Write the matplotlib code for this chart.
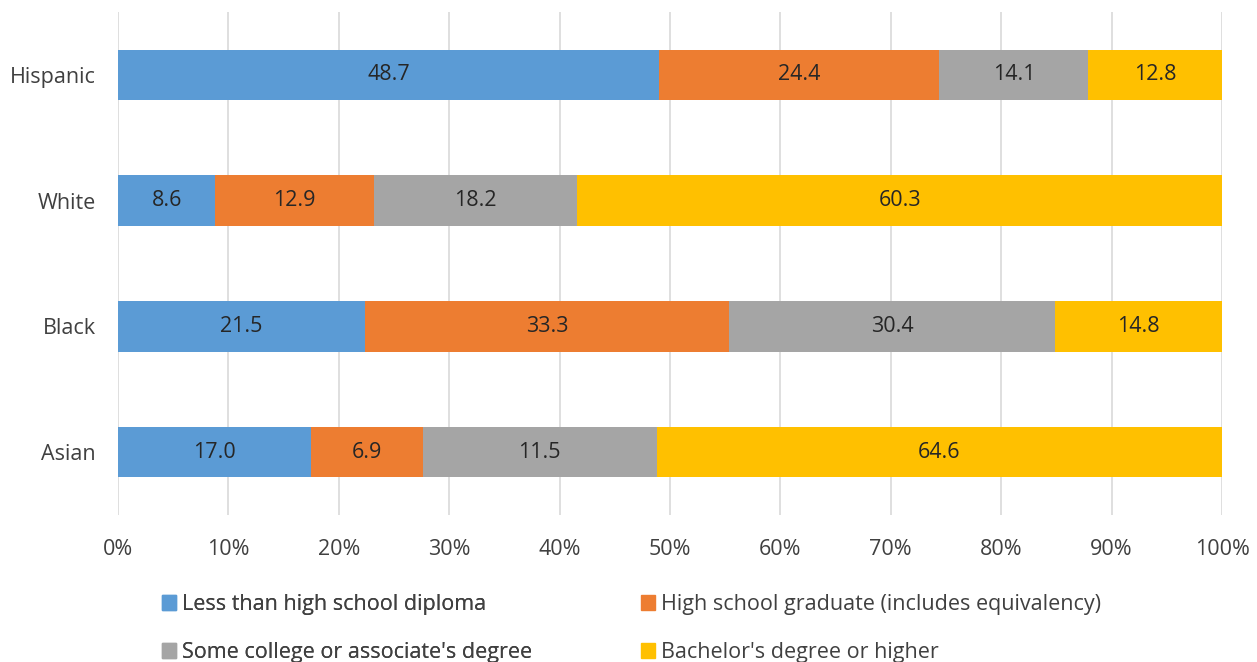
import matplotlib
matplotlib.use("Agg")
import matplotlib.pyplot as plt
from matplotlib.patches import Patch
import numpy as np


GROUPS = ["Hispanic", "White", "Black", "Asian"]
SERIES = [
    "Less than high school diploma",
    "High school graduate (includes equivalency)",
    "Some college or associate's degree",
    "Bachelor's degree or higher",
]

# segment lengths as drawn (percent of bar)
BAR_LESS_THAN_HS = [49.0, 8.8, 22.4, 17.5]
BAR_HS_GRAD = [25.4, 14.4, 32.9, 10.1]
BAR_SOME_COLLEGE = [13.5, 18.4, 29.6, 21.2]
BAR_BACHELORS = [12.1, 58.4, 15.1, 51.2]

# data labels as printed on the bars
LBL_LESS_THAN_HS = [48.7, 8.6, 21.5, 17.0]
LBL_HS_GRAD = [24.4, 12.9, 33.3, 6.9]
LBL_SOME_COLLEGE = [14.1, 18.2, 30.4, 11.5]
LBL_BACHELORS = [12.8, 60.3, 14.8, 64.6]

X_TICKS = [0, 10, 20, 30, 40, 50, 60, 70, 80, 90, 100]

COLORS = ["#5B9BD5", "#ED7D31", "#A5A5A5", "#FFC000"]
TEXT_COLOR = "#404040"
FONT = "Open Sans"
FONT_SIZE = 15.5


def main() -> None:
    plt.rcParams["font.family"] = [FONT, "DejaVu Sans"]

    fig = plt.figure(figsize=(12.57, 6.62), dpi=100)
    ax = fig.add_axes([118 / 1257, 1 - 515 / 662, 1104 / 1257, 503 / 662])

    widths = np.array([BAR_LESS_THAN_HS, BAR_HS_GRAD, BAR_SOME_COLLEGE, BAR_BACHELORS])
    widths = widths / widths.sum(axis=0) * 100
    labels = np.array([LBL_LESS_THAN_HS, LBL_HS_GRAD, LBL_SOME_COLLEGE, LBL_BACHELORS])
    y = np.arange(len(GROUPS))[::-1]

    left = np.zeros(len(GROUPS))
    for i, name in enumerate(SERIES):
        ax.barh(y, widths[i], left=left, height=0.4, color=COLORS[i], label=name, zorder=2)
        for yy, lft, w, v in zip(y, left, widths[i], labels[i]):
            ax.text(lft + w / 2, yy, f"{v:.1f}", ha="center", va="center",
                    fontsize=FONT_SIZE, color="#262626", zorder=3)
        left += widths[i]

    ax.set_xlim(0, 100)
    ax.set_ylim(-0.5, len(GROUPS) - 0.5)
    ax.set_xticks(X_TICKS)
    ax.set_xticklabels([f"{t}%" for t in X_TICKS])
    ax.set_yticks(y)
    ax.set_yticklabels(GROUPS)
    ax.tick_params(axis="both", length=0, labelsize=FONT_SIZE, colors=TEXT_COLOR)
    ax.tick_params(axis="x", pad=17)
    ax.tick_params(axis="y", pad=16)
    ax.grid(axis="x", color="#D9D9D9", linewidth=1.2, zorder=0)
    for spine in ax.spines.values():
        spine.set_visible(False)

    handles = [Patch(color=c) for c in COLORS]
    legend_opts = dict(
        loc="upper left",
        frameon=False,
        fontsize=FONT_SIZE,
        labelcolor=TEXT_COLOR,
        handlelength=0.65,
        handleheight=0.65,
        handletextpad=0.3,
        labelspacing=1.25,
        borderaxespad=0,
        borderpad=0,
    )
    first = fig.legend([handles[0], handles[2]], [SERIES[0], SERIES[2]],
                       bbox_to_anchor=(162 / 1257, 1 - 594 / 662), **legend_opts)
    fig.add_artist(first)
    fig.legend([handles[1], handles[3]], [SERIES[1], SERIES[3]],
               bbox_to_anchor=(641 / 1257, 1 - 594 / 662), **legend_opts)

    fig.savefig("out.png", dpi=100)


if __name__ == "__main__":
    main()
